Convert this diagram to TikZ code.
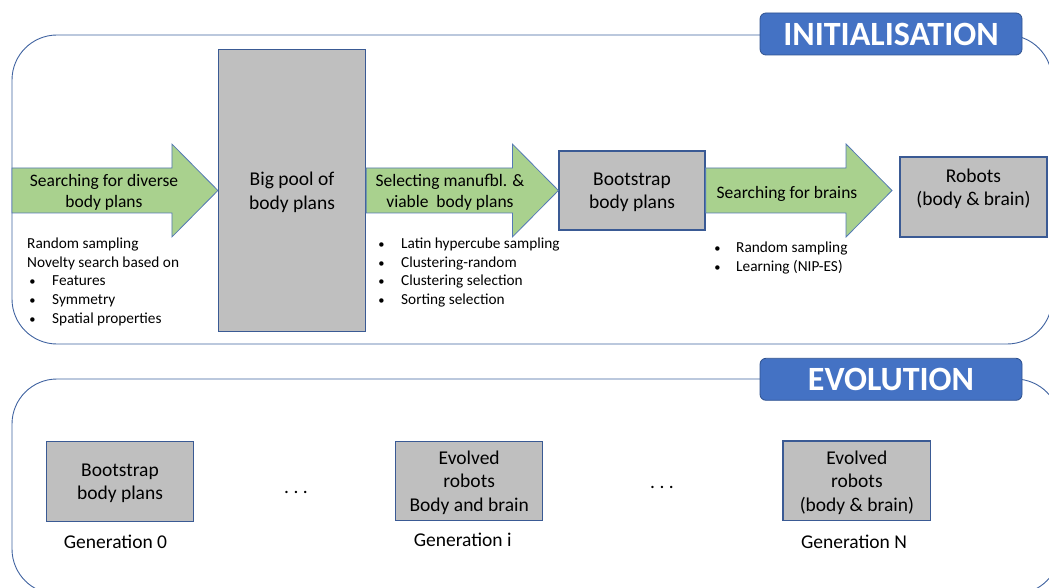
\documentclass[tikz,border=0pt]{standalone}
\usepackage{fontspec}
\setmainfont{Carlito}
\definecolor{panelblue}{HTML}{3F62A0}
\definecolor{tagblue}{HTML}{4472C4}
\definecolor{tagedge}{HTML}{2F528F}
\definecolor{boxgrey}{HTML}{BFBFBF}
\definecolor{boxedge}{HTML}{3A5A94}
\definecolor{arrowgreen}{HTML}{A9D18E}
\definecolor{arrowedge}{HTML}{5479B5}
\newcommand{\itemdot}[1]{\makebox[#1][l]{\fontsize{12.5}{12.5}\selectfont\,•}}

\begin{document}
\begin{tikzpicture}[x=1pt,y=1pt]
\tikzstyle{every node}+=[inner sep=0pt]
\tikzstyle{panel}=[draw=panelblue, line width=0.9pt, rounded corners=45pt]
\tikzstyle{tag}=[draw=tagedge, fill=tagblue, line width=0.8pt, rounded corners=6pt,
  minimum width=262, minimum height=42, text=white,
  font=\fontsize{34}{40}\selectfont\bfseries]
\tikzstyle{greybox}=[draw=boxedge, fill=boxgrey, line width=1.2pt, align=center,
  text depth=0pt, font=\fontsize{19.5}{23.5}\selectfont]
\tikzstyle{blockarrow}=[draw=arrowedge, fill=arrowgreen, line width=0.8pt]
\tikzstyle{arrowtext}=[align=center, text depth=0pt, font=\fontsize{17.5}{21.5}\selectfont]
\tikzstyle{listtext}=[align=left, anchor=north west, font=\fontsize{15.3}{18.7}\selectfont]
\tikzstyle{gentext}=[font=\fontsize{19.5}{23.5}\selectfont]
\useasboundingbox (0,0) rectangle (1049,-588);
\clip (0,0) rectangle (1049,-588);
% the two stages
\draw [panel] (12,-35) rectangle (1052,-344);
\draw [panel] (12,-379) rectangle (1060,-594);
\node [tag] (init) at (891,-34) {INITIALISATION};
\node [tag] (evo) at (891,-379.3) {EVOLUTION};
% initialisation
\node [greybox, minimum width=147, minimum height=282] (pool) at (292,-190.5) {Big pool of\\body plans};
\node [greybox, minimum width=146, minimum height=79] (boot) at (632,-190.5) {Bootstrap\\body plans};
\node [greybox, minimum width=147, minimum height=80] (robots) at (973.5,-197) {};
\node [greybox, draw=none, fill=none] (robotstext) at (973.5,-187) {Robots\\(body \& brain)};
\coordinate (start) at (12,-190.5);
\coordinate (tip) at (892,-190.5);
\draw [blockarrow] ([yshift=22.5]start) -- ([xshift=-46,yshift=22.5]pool.west) -- ([xshift=-46,yshift=46.5]pool.west)
  -- (pool.west) -- ([xshift=-46,yshift=-46.5]pool.west) -- ([xshift=-46,yshift=-22.5]pool.west)
  -- ([yshift=-22.5]start) -- cycle;
\draw [blockarrow] ([yshift=22.5]pool.east) -- ([xshift=-46,yshift=22.5]boot.west) -- ([xshift=-46,yshift=46.5]boot.west)
  -- (boot.west) -- ([xshift=-46,yshift=-46.5]boot.west) -- ([xshift=-46,yshift=-22.5]boot.west)
  -- ([yshift=-22.5]pool.east) -- cycle;
\draw [blockarrow] ([yshift=22.5]boot.east) -- ([xshift=-46,yshift=22.5]tip) -- ([xshift=-46,yshift=46.5]tip)
  -- (tip) -- ([xshift=-46,yshift=-46.5]tip) -- ([xshift=-46,yshift=-22.5]tip)
  -- ([yshift=-22.5]boot.east) -- cycle;
\node [arrowtext] (diverse) at (104,-191) {Searching for diverse\\body plans};
\node [arrowtext] (select) at (450,-191) {Selecting manufbl. \&\\viable\ \ body plans};
\node [arrowtext] (brains) at (787,-192) {Searching for brains};
\node [listtext] (divlist) at (27,-237.5) {Random sampling\\Novelty search based on\\
  \itemdot{25pt}Features\\\itemdot{25pt}Symmetry\\\itemdot{25pt}Spatial properties};
\node [listtext] (sellist) at (376,-237.5) {\itemdot{25pt}Latin hypercube sampling\\
  \itemdot{25pt}Clustering-random\\\itemdot{25pt}Clustering selection\\\itemdot{25pt}Sorting selection};
\node [listtext] (brainlist) at (712,-241.5) {\itemdot{24pt}Random sampling\\\itemdot{24pt}Learning (NIP-ES)};
% evolution
\node [greybox, minimum width=146.6, minimum height=80] (gen0) at (120,-481.5) {Bootstrap\\body plans};
\node [greybox, minimum width=147, minimum height=79] (geni) at (469.2,-481.2) {Evolved\\robots\\Body and brain};
\node [greybox, minimum width=147.7, minimum height=79.7] (genn) at (856.9,-480.9) {Evolved\\robots\\(body \& brain)};
\node [gentext] (gen0lab) at (115.5,-541.7) {Generation 0};
\node [gentext] (genilab) at (462.7,-540) {Generation i};
\node [gentext] (gennlab) at (854,-541.7) {Generation N};
\node [gentext, anchor=base] (dots1) at (296,-493) {.\ .\ .};
\node [gentext, anchor=base] (dots2) at (662,-488.5) {.\ .\ .};
\end{tikzpicture}
\end{document}
